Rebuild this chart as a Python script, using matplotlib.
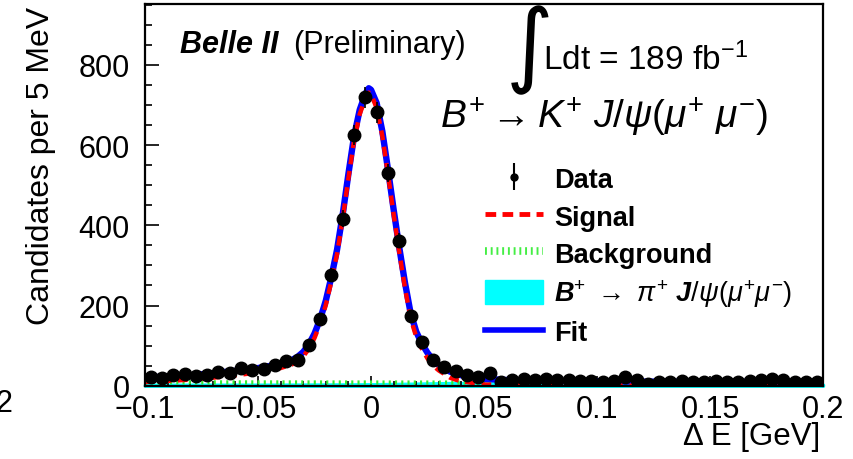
import numpy as np
import matplotlib
matplotlib.use('Agg')
import matplotlib.pyplot as plt
from matplotlib.lines import Line2D
from matplotlib.patches import Patch
from matplotlib.ticker import MultipleLocator

plt.rcParams['font.family'] = ['Liberation Sans', 'DejaVu Sans']
plt.rcParams['mathtext.fontset'] = 'custom'
plt.rcParams['mathtext.rm'] = 'Liberation Sans'
plt.rcParams['mathtext.it'] = 'Liberation Sans:italic'
plt.rcParams['mathtext.bf'] = 'Liberation Sans:bold:italic'

# data: candidates per 5 MeV bin, Delta E from -0.1 to 0.2 GeV
bin_edges = np.linspace(-0.1, 0.2, 61)
counts = [21, 18, 27, 29, 23, 27, 33, 32, 44, 40,
          42, 52, 62, 65, 102, 167, 276, 417, 626, 719,
          682, 530, 362, 175, 108, 63, 46, 37, 27, 21,
          32, 8, 14, 16, 15, 17, 14, 13, 12, 11,
          10, 12, 21, 15, 4, 10, 9, 11, 9, 10,
          11, 9, 8, 12, 15, 16, 15, 9, 10, 10]

# fit components
fit_x = [-0.1, -0.09, -0.08, -0.07, -0.06, -0.05, -0.045, -0.04, -0.035, -0.0325,
         -0.03, -0.0275, -0.025, -0.0225, -0.02, -0.0175, -0.015, -0.0125, -0.01, -0.0075,
         -0.005, -0.0025, -0.001, 0.0, 0.0025, 0.005, 0.0075, 0.01, 0.0125, 0.015,
         0.0175, 0.02, 0.0225, 0.025, 0.0275, 0.03, 0.0325, 0.035, 0.0375, 0.04,
         0.045, 0.05, 0.06, 0.08, 0.1, 0.12, 0.14, 0.16, 0.18, 0.2]
fit_y = [20, 23, 26, 31, 37, 44, 49, 55, 64, 72,
         84, 103, 130, 166, 212, 272, 340, 428, 528, 622,
         688, 728, 742, 738, 705, 635, 540, 440, 345, 258,
         182, 135, 105, 82, 64, 52, 43, 35, 30, 26,
         21, 17, 14, 12, 11, 10, 10, 9.7, 9.6, 9.5]
signal_y = [9, 12, 15, 20, 26, 33, 38, 44, 53, 61,
            73, 92, 119, 155, 201, 261, 329, 417, 517, 611,
            677, 717, 731, 727, 693, 623, 528, 428, 333, 245,
            169, 122, 92, 68, 50, 38, 29, 20, 15, 11,
            7, 3, 1.3, 0.7, 0.5, 0.2, 0.1, 0.1, 0.1, 0.1]
bkg_x = [-0.1, 0.2]
bkg_y = [8.5, 7.0]
pi_x = [-0.1, -0.05, -0.02, 0.0, 0.02, 0.035, 0.05, 0.07, 0.1, 0.15, 0.2]
pi_y = [2.5, 2.5, 3, 3.5, 5, 6.5, 6, 4, 3, 2.5, 2.5]

xticks = [-0.1, -0.05, 0.0, 0.05, 0.1, 0.15, 0.2]
xtick_labels = ['\u22120.1', '\u22120.05', '0', '0.05', '0.1', '0.15', '0.2']
yticks = [0, 200, 400, 600, 800]

W, H = 854, 460


def fx(px):
    return px / W


def fy(py):
    return 1 - py / H


fig = plt.figure(figsize=(W / 100, H / 100), dpi=100)
ax = fig.add_axes([fx(145), fy(386.7), 678 / W, 381.7 / H])

centers = 0.5 * (bin_edges[:-1] + bin_edges[1:])
counts = np.array(counts, dtype=float)

ax.fill_between(pi_x, 0, pi_y, facecolor='#00ffff', edgecolor='#00ffff', lw=2.5,
                zorder=1, clip_on=False)
ax.plot(bkg_x, bkg_y, color='#33ee33', lw=3, ls=(0, (0.5, 1.0)), zorder=2)
ax.plot(fit_x, fit_y, color='#0000ff', lw=4.6, zorder=3)
ax.plot(fit_x, signal_y, color='#ff0000', lw=3.2, ls=(0, (2.2, 1.5)), zorder=4)
ax.errorbar(centers, counts, yerr=np.sqrt(counts), fmt='o', color='k', ms=9,
            elinewidth=1.2, capsize=0, zorder=5)

ax.set_xlim(-0.1, 0.2)
ax.set_ylim(0, 952)
ax.set_xticks(xticks)
ax.set_xticklabels(xtick_labels)
ax.set_yticks(yticks)
ax.xaxis.set_minor_locator(MultipleLocator(0.01))
ax.yaxis.set_minor_locator(MultipleLocator(50))
ax.tick_params(which='both', direction='in', top=False, right=False, width=1.2)
ax.tick_params(axis='x', which='major', length=7, pad=6, labelsize=22)
ax.tick_params(axis='x', which='minor', length=3.6)
ax.tick_params(axis='y', which='major', length=10, pad=11, labelsize=22)
ax.tick_params(axis='y', which='minor', length=5)
for s in ax.spines.values():
    s.set_linewidth(1.6)
    s.set_zorder(6)

# legend
h_data = ax.errorbar([np.nan], [np.nan], yerr=[1.0], fmt='o', color='k', ms=5,
                     elinewidth=1.5, capsize=0)
h_sig = Line2D([], [], color='#ff0000', lw=3.5, ls=(0, (2.2, 1.3)))
h_bkg = Line2D([], [], color='#44ee44', lw=5.5, ls=(0, (0.25, 0.5)))
h_pi = Patch(facecolor='#00ffff', edgecolor='#00ffff')
h_fit = Line2D([], [], color='#0000ff', lw=4)
labels = ['Data', 'Signal', 'Background',
          r'$\mathbf{B}^{+}\ \rightarrow\ \pi^{+}\ \mathbf{J}/\psi(\mu^{+}\mu^{-})$', 'Fit']
ax.legend([h_data, h_sig, h_bkg, h_pi, h_fit], labels, loc='upper left',
          bbox_to_anchor=(fx(485), fy(167)), bbox_transform=fig.transFigure,
          frameon=False, prop={'weight': 'bold', 'size': 19.5},
          handlelength=2.15, handleheight=1.0, handletextpad=0.4,
          labelspacing=0.36, borderpad=0, borderaxespad=0)

# annotations
fig.text(fx(180), fy(53), 'Belle II', fontsize=22, fontweight='bold',
         fontstyle='italic', va='baseline')
fig.text(fx(293), fy(53), '(Preliminary)', fontsize=22, va='baseline')
fig.text(fx(530), fy(50), '\u222b', fontsize=66, ha='center', va='center',
         family=['DejaVu Sans'])
fig.text(fx(543), fy(70), r'Ldt = 189 fb$^{\mathregular{-1}}$', fontsize=24,
         va='baseline')
fig.text(fx(440), fy(128), r'$B^{+}\rightarrow K^{+}\ J/\psi(\mu^{+}\ \mu^{-})$',
         fontsize=28, va='baseline')

fig.text(fx(820), fy(437), '\u0394 E [GeV]', ha='right', va='center', fontsize=22.5)
fig.text(fx(41), fy(7), 'Candidates per 5 MeV', rotation=90, ha='center',
         va='top', fontsize=23)
fig.text(fx(12), fy(404), '2', ha='right', va='center', fontsize=22)

fig.savefig('out.png', dpi=100)
